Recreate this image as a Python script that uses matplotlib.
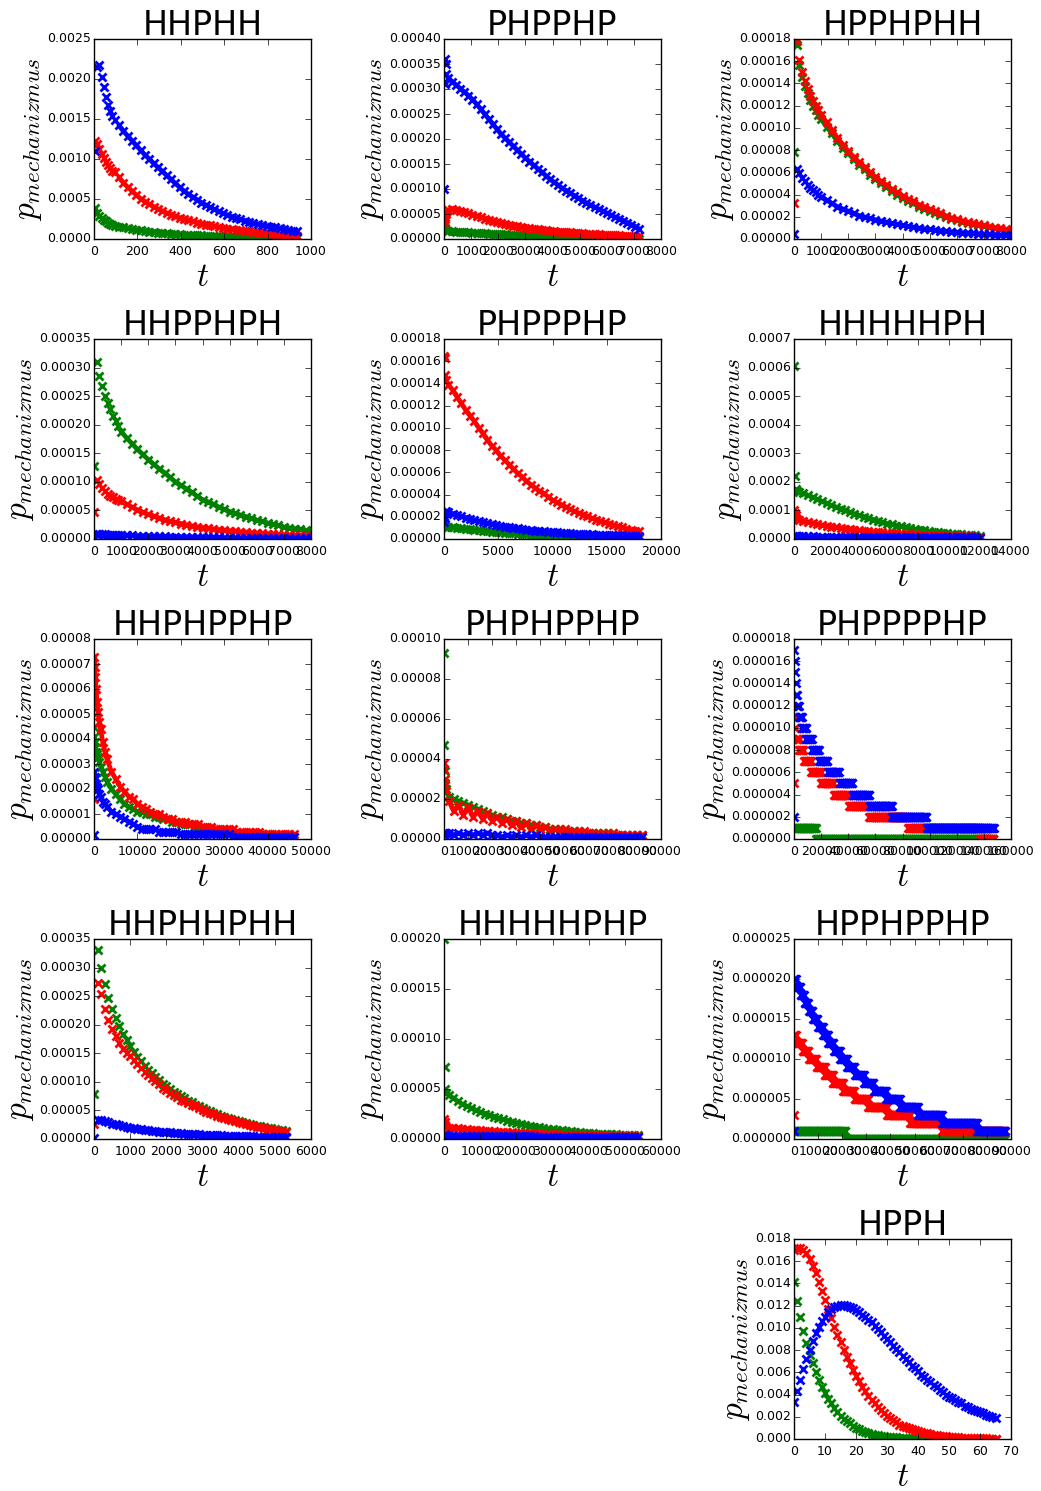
import numpy as np
import matplotlib
matplotlib.use("Agg")
import matplotlib.pyplot as plt

plt.style.use("classic")
plt.rcParams.update({
    "mathtext.fontset": "cm",
    "xtick.labelsize": 9,
    "ytick.labelsize": 9,
    "xtick.major.pad": 4,
    "ytick.major.pad": 2,
    "axes.linewidth": 1.0,
})

U = 1e-6  # values below are stored in units of 1e-6

# ---------------- HHPHH ----------------
hhphh_t = [5, 15, 25, 35, 45, 55, 65, 75, 85, 95] + list(range(115, 936, 20))
hhphh_blue = [1100, 2150, 2170, 2030, 1900, 1780, 1680, 1600, 1540, 1490,
              1420, 1350, 1290, 1230, 1170, 1110, 1050, 1000, 945, 895,
              845, 795, 745, 695, 645, 600, 560, 525, 490, 455,
              425, 395, 370, 345, 320, 300, 280, 260, 245, 230,
              215, 200, 185, 175, 165, 155, 145, 135, 125, 115, 105, 95]
hhphh_red = [1230, 1190, 1120, 1060, 1010, 960, 920, 885, 855, 835,
             770, 705, 650, 600, 550, 505, 468, 435, 405, 375,
             350, 325, 305, 285, 265, 250, 235, 220, 205, 193,
             181, 170, 160, 150, 140, 131, 123, 116, 109, 102,
             96, 90, 84, 78, 72, 67, 62, 57, 52, 47, 42, 38]
hhphh_green = [390, 330, 290, 265, 240, 220, 205, 190, 178, 168,
               155, 145, 135, 125, 115, 107, 100, 93, 87, 81,
               76, 71, 67, 63, 59, 56, 53, 50, 47, 44,
               42, 40, 38, 36, 34, 32, 30, 28, 26, 25,
               24, 23, 22, 21, 20, 19, 18, 17, 16, 15, 14, 13]

# ---------------- PHPPHP ----------------
phpphp_t = [0, 20, 40, 60, 80] + list(range(150, 7201, 150))
phpphp_blue = [100, 360, 310, 350, 330,
               322, 315, 308, 301, 294, 287, 279, 270, 260, 250,
               240, 230, 220, 210, 202, 194, 186, 178, 170, 162,
               155, 148, 141, 134, 127, 120, 114, 108, 102, 97,
               92, 87, 82, 77, 72, 68, 64, 60, 56, 52,
               48, 44, 41, 37, 33, 29, 25, 20]
phpphp_red = [35, 40, 45, 50, 55,
              58, 60, 59, 57, 55, 52, 49, 46, 44, 41,
              39, 36, 34, 32, 30, 29, 27, 26, 24, 23,
              22, 21, 20, 19, 18, 17, 16, 15, 14.5, 14,
              13.3, 12.7, 12, 11.5, 11, 10.5, 10, 9.5, 9, 8.6,
              8.2, 7.8, 7.4, 7, 6.7, 6.4, 6.1, 5.8]
phpphp_green = [25, 22, 20, 18, 17,
                16, 15.5, 15, 14.5, 14, 13.5, 13, 12.5, 12, 11.5,
                11, 10.5, 10, 9.6, 9.2, 8.8, 8.4, 8, 7.6, 7.2,
                6.8, 6.4, 6, 5.7, 5.4, 5.1, 4.8, 4.5, 4.2, 4,
                3.7, 3.5, 3.3, 3, 2.8, 2.6, 2.4, 2.2, 2, 1.9,
                1.8, 1.6, 1.5, 1.4, 1.3, 1.2, 1.1, 1]

# ---------------- HPPHPHH ----------------
hpphphh_t = list(range(0, 1000, 100)) + list(range(1000, 8001, 200))
hpphphh_red = [32, 178, 161, 150, 142, 135, 129, 124, 120, 116,
               112, 105, 98, 91, 85, 79, 74, 69, 65, 60,
               56, 52, 49, 45, 42, 39, 36, 34, 31, 29,
               27, 25, 23, 21, 19, 18, 16.5, 15.3, 14.2, 13.2,
               12.2, 11.2, 10.3, 9.5, 8.7, 8]
hpphphh_green = [78, 175, 157, 146, 138, 131, 125, 120, 116, 112,
                 108, 101, 95, 88, 82, 77, 72, 67, 63, 58,
                 54, 50, 47, 43, 40, 37, 34, 32, 29, 27,
                 25, 23, 21.5, 19.8, 18.2, 16.8, 15.5, 14.3, 13.2, 12.2,
                 11.3, 10.4, 9.6, 8.8, 8.1, 7.4]
hpphphh_blue = [4.5, 63, 59, 55, 52, 49, 46, 44, 42, 40,
                38, 35, 32, 29, 27, 25, 23, 21, 19.8, 18.5,
                17.3, 16.2, 15.2, 14.2, 13.2, 12.3, 11.5, 10.7, 9.9, 9.2,
                8.6, 8, 7.5, 7, 6.5, 6.1, 5.7, 5.4, 5.1, 4.8,
                4.5, 4.2, 4, 3.7, 3.5, 3.3]

# ---------------- HHPPHPH ----------------
hhpphph_t = list(range(0, 1000, 100)) + list(range(1000, 8001, 200))
hhpphph_green = [127, 310, 286, 267, 251, 238, 227, 216, 206, 197,
                 188, 177, 167, 157, 148, 139, 131, 123, 116, 108,
                 100, 94, 88, 82, 75, 69, 65, 61, 56, 52,
                 48, 45, 42, 39, 36, 33, 31, 28, 26, 24,
                 21, 19.6, 18.2, 16.8, 15.2, 14]
hhpphph_red = [47, 104, 97, 90, 84, 79, 76, 73, 70, 68,
               66, 61, 56, 51, 47, 43, 40, 37, 34, 31,
               29, 27, 25, 23, 21.5, 20, 18.8, 17.6, 16.5, 15.5,
               14.6, 13.7, 12.8, 12, 11.2, 10.5, 9.9, 9.3, 8.7, 8.1,
               7.6, 7.2, 6.8, 6.4, 6.1, 5.8]
hhpphph_blue = [4, 8.5, 8.3, 8.1, 7.9, 7.7, 7.5, 7.3, 7.1, 7.0,
                6.8, 6.5, 6.2, 5.9, 5.6, 5.3, 5.0, 4.8, 4.5, 4.3,
                4.1, 3.9, 3.7, 3.5, 3.3, 3.1, 3.0, 2.8, 2.7, 2.5,
                2.4, 2.3, 2.2, 2.1, 2.0, 1.9, 1.8, 1.7, 1.6, 1.5,
                1.4, 1.4, 1.3, 1.2, 1.2, 1.1]

# ---------------- PHPPPHP ----------------
phppphp_t = [0, 60, 120, 180] + list(range(400, 18001, 400))
phppphp_red = [165, 163, 148, 143,
               139, 134, 128, 122, 116, 111, 106, 100, 95, 89,
               84, 80, 75, 71, 67, 63, 59, 56, 52, 49,
               46, 43, 41, 38, 35, 33, 31, 29, 27, 25,
               23.4, 21.8, 20.3, 18.8, 17.4, 16.1, 14.9, 13.7, 12.5, 11.4,
               10.4, 9.4, 8.5, 7.6, 6.8]
phppphp_blue = [15, 19, 23, 25,
                24.2, 22.8, 21.5, 20.3, 19.1, 18, 17, 16, 15.1, 14.2,
                13.4, 12.6, 11.9, 11.2, 10.6, 10, 9.5, 9, 8.5, 8,
                7.6, 7.2, 6.8, 6.5, 6.2, 5.9, 5.6, 5.3, 5.1, 4.9,
                4.7, 4.5, 4.3, 4.1, 4, 3.8, 3.7, 3.5, 3.4, 3.3,
                3.2, 3.1, 3, 2.9, 2.8]
phppphp_green = [13, 12, 11, 11,
                 10.8, 10.4, 10, 9.6, 9.2, 8.7, 8.3, 7.9, 7.5, 7.1,
                 6.7, 6.3, 6, 5.7, 5.4, 5.1, 4.8, 4.5, 4.3, 4,
                 3.8, 3.6, 3.4, 3.2, 3, 2.8, 2.7, 2.5, 2.4, 2.2,
                 2.1, 2, 1.9, 1.8, 1.7, 1.6, 1.5, 1.4, 1.3, 1.2,
                 1.2, 1.1, 1, 1, 0.9]

# ---------------- HHHHHPH ----------------
hhhhhph_t = [0, 50, 100, 150, 200] + list(range(300, 12001, 300))
hhhhhph_green = [604, 220, 175, 172, 168,
                 166, 160, 153, 146, 139, 132, 125, 118, 112, 106,
                 100, 94, 88, 83, 78, 73, 68, 63, 58, 54,
                 51, 47, 44, 41, 38, 35, 33, 30, 28, 26,
                 24, 22, 20, 19, 17.5, 16.2, 15, 13.9, 12.8, 11.8]
hhhhhph_red = [103, 92, 85, 75, 70,
               68, 64, 60, 56, 52, 49, 46, 43, 41, 38,
               36, 34, 32, 30, 28.5, 27, 25.5, 24, 22.8, 21.6,
               20.5, 19.5, 18.5, 17.6, 16.7, 15.9, 15.1, 14.4, 13.7, 13,
               12.4, 11.8, 11.2, 10.7, 10.2, 9.7, 9.3, 8.9, 8.5, 8.1]
hhhhhph_blue = [6, 9, 9, 9, 9,
                9, 9, 8.9, 8.8, 8.7, 8.6, 8.5, 8.4, 8.3, 8.2,
                8.1, 8, 7.9, 7.8, 7.7, 7.6, 7.5, 7.4, 7.3, 7.2,
                7.1, 7, 6.9, 6.8, 6.7, 6.6, 6.5, 6.4, 6.3, 6.2,
                6.1, 6, 5.9, 5.8, 5.7, 5.6, 5.5, 5.4, 5.3, 5.2]

# ---------------- HHPHPPHP ----------------
hhphpphp_t = [0, 100, 200, 300, 500, 700, 900, 1200, 1500, 2000, 2500, 3000] + list(range(4000, 46001, 1000))
hhphpphp_red = [16, 73, 69, 65, 60, 55, 51, 47, 44, 39, 35, 32,
                27, 24, 21, 19, 17, 16, 14, 13, 12, 11,
                10, 10, 9, 8, 8, 7, 7, 7, 6, 6,
                6, 5, 5, 5, 4, 4, 4, 4, 4, 3,
                3, 3, 3, 3, 3, 2, 2, 2, 2, 2,
                2, 2, 2]
hhphpphp_green = [45, 41, 39, 37, 35, 34, 33, 31, 29, 27, 25, 23,
                  20, 18, 16, 14, 13, 12, 11, 11, 10, 10,
                  9, 9, 8, 8, 7, 7, 6, 6, 6, 5,
                  5, 4, 4, 4, 3, 3, 3, 3, 2, 2,
                  2, 2, 2, 2, 2, 2, 2, 1, 1, 1,
                  1, 1, 1]
hhphpphp_blue = [1.5, 27, 25, 24, 22, 21, 20, 18, 17, 15, 14, 13,
                 11, 10, 9, 8, 7, 6, 5, 4, 4, 4,
                 4, 3, 3, 3, 3, 3, 2, 2, 2, 2,
                 2, 2, 2, 2, 2, 2, 2, 2, 1, 1,
                 1, 1, 1, 1, 1, 1, 1, 1, 1, 1,
                 1, 1, 1]

# ---------------- PHPHPPHP ----------------
phphpphp_t = [0, 200, 400, 600, 800] + list(range(2000, 82001, 2000))
phphpphp_red = [38, 35, 30, 27, 24,
                19, 14, 17, 12, 16, 11, 14, 10, 13, 9,
                11, 8, 10, 7, 9, 6, 8, 5, 7, 5,
                6, 4, 5, 4, 5, 3, 4, 3, 4, 3,
                3, 2, 3, 2, 3, 2, 2, 2, 2, 2, 2]
phphpphp_green = [93, 47, 34, 28, 25,
                  21, 20, 19, 18, 17, 16, 15, 14, 13, 12,
                  11, 11, 10, 9, 9, 8, 8, 7, 7, 6,
                  6, 5, 5, 5, 4, 4, 4, 4, 3, 3,
                  3, 3, 3, 3, 3, 2, 2, 2, 2, 2, 2]
phphpphp_blue = [2, 3, 3, 3, 3,
                 3, 2, 3, 2, 3, 2, 3, 2, 3, 2,
                 2, 1, 2, 1, 2, 1, 2, 1, 2, 1,
                 1, 1, 1, 1, 1, 1, 1, 1, 1, 1,
                 1, 1, 1, 1, 1, 1, 1, 1, 1, 1, 1]

# ---------------- PHPPPPHP (piecewise constant: t_start, t_end, level) ----------------
phpppphp_blue_steps = [(0, 0, 2), (300, 300, 17), (600, 600, 16), (900, 900, 15),
                       (1200, 1600, 14), (1600, 2500, 13), (2500, 3800, 12), (3800, 6000, 11),
                       (6000, 9100, 10), (9100, 13400, 9), (13400, 18600, 8), (18600, 25100, 7),
                       (25100, 33600, 6), (33600, 43150, 5), (43150, 55750, 4), (55750, 72500, 3),
                       (72500, 97850, 2), (97850, 147500, 1)]
phpppphp_red_steps = [(0, 0, 5), (200, 600, 11), (600, 1400, 10), (1400, 4000, 9),
                      (4000, 7500, 8), (7500, 12800, 7), (12800, 20000, 6), (20000, 29400, 5),
                      (29400, 40700, 4), (40700, 55200, 3), (55200, 84000, 2),
                      (84000, 137000, 1), (137000, 147500, 0)]
phpppphp_green_steps = [(0, 16500, 1), (16500, 147500, 0)]

# ---------------- HHPHHPHH ----------------
hhphhphh_t = list(range(0, 5301, 100))
hhphhphh_green = [79, 331, 300, 271, 247, 228, 212, 197, 184, 173,
                  162, 153, 144, 136, 128, 121, 115, 109, 103, 97,
                  92, 87, 83, 79, 75, 71, 67, 64, 60, 57,
                  54, 51, 49, 46, 43, 41, 39, 37, 35, 33,
                  31, 29.5, 28, 26.5, 25, 23.5, 22.2, 21, 19.8, 18.7,
                  17.6, 16.6, 15.7, 14.8]
hhphhphh_red = [26, 273, 253, 228, 209, 193, 180, 168, 158, 151,
                145, 138, 131, 125, 118, 112, 106, 101, 96, 90,
                85, 81, 77, 73, 69, 66, 63, 60, 57, 54,
                51, 48, 46, 43, 41, 39, 37, 35, 33, 31,
                29, 27.5, 26, 24.5, 23, 21.5, 20.3, 19.1, 18, 16.9,
                15.8, 14.8, 13.8, 12.9]
hhphhphh_blue = [2, 34, 33, 31, 29, 27, 26, 24, 23, 21,
                 20, 19, 18, 17, 16, 15, 14, 13.5, 13, 12.5,
                 12, 11.5, 11, 10.5, 10, 9.6, 9.2, 8.8, 8.4, 8,
                 7.7, 7.4, 7.1, 6.8, 6.5, 6.2, 6, 5.8, 5.6, 5.4,
                 5.2, 5, 4.8, 4.6, 4.4, 4.2, 4, 3.9, 3.8, 3.7,
                 3.6, 3.5, 3.4, 3.3]

# ---------------- HHHHHPHP ----------------
hhhhhphp_t = [0, 200, 400, 600] + list(range(1250, 53751, 1250))
hhhhhphp_green = [200, 72, 50, 46,
                  44, 41, 38, 35, 33, 31, 29, 27, 25.5, 24,
                  22.5, 21, 19.7, 18.5, 17.3, 16.2, 15.2, 14.2, 13.3, 12.5,
                  11.7, 11, 10.3, 9.7, 9.1, 8.6, 8.1, 7.6, 7.2, 6.8,
                  6.4, 6.1, 5.8, 5.5, 5.2, 5, 4.8, 4.6, 4.4, 4.2,
                  4, 3.8, 3.6]
hhhhhphp_red = [20, 17, 14, 12,
                11.5, 11, 10.6, 10.2, 9.8, 9.4, 9, 8.7, 8.4, 8.1,
                7.8, 7.5, 7.2, 6.9, 6.6, 6.4, 6.2, 6, 5.8, 5.6,
                5.4, 5.2, 5, 4.8, 4.6, 4.5, 4.4, 4.3, 4.2, 4.1,
                4, 3.9, 3.8, 3.7, 3.6, 3.5, 3.4, 3.3, 3.2, 3.1,
                3, 3, 3]
hhhhhphp_blue = [2, 4, 4, 4,
                 3.5, 3.5, 3.5, 3.5, 3.5, 3.5, 3.5, 3.5, 3.5, 3.5,
                 3, 3, 3, 3, 3, 3, 3, 3, 3, 3,
                 2.5, 2.5, 2.5, 2.5, 2.5, 2.5, 2.5, 2.5, 2.5, 2.5,
                 2.5, 2.5, 2, 2, 2, 2, 2, 2, 2, 2,
                 2, 2, 2]

# ---------------- HPPHPPHP (piecewise constant) ----------------
hpphpphp_blue_steps = [(0, 0, 1), (200, 1100, 20), (1100, 2700, 19), (2700, 4360, 18),
                       (4360, 6160, 17), (6160, 7890, 16), (7890, 9900, 15), (9900, 12050, 14),
                       (12050, 14190, 13), (14190, 16550, 12), (16550, 19040, 11), (19040, 22090, 10),
                       (22090, 25270, 9), (25270, 29010, 8), (29010, 33160, 7), (33160, 38150, 6),
                       (38150, 44030, 5), (44030, 51300, 4), (51300, 61410, 3), (61410, 76090, 2),
                       (76090, 87500, 1)]
hpphpphp_red_steps = [(0, 0, 3), (200, 900, 13), (900, 3600, 12), (3600, 6160, 11),
                      (6160, 9420, 10), (9420, 12740, 9), (12740, 16060, 8), (16060, 20350, 7),
                      (20350, 25130, 6), (25130, 30880, 5), (30880, 38490, 4), (38490, 48250, 3),
                      (48250, 61340, 2), (61340, 87500, 1)]
hpphpphp_green_steps = [(300, 21400, 1), (21400, 87500, 0)]

# ---------------- HPPH ----------------
hpph_t = list(range(0, 66))
hpph_blue = [3300, 4300, 5300, 6300, 7200, 8000, 8800, 9500, 10100, 10600,
             11000, 11400, 11700, 11900, 12000, 12100, 12100, 12000, 11900, 11800,
             11600, 11400, 11200, 11000, 10700, 10500, 10200, 9900, 9600, 9300,
             9000, 8700, 8400, 8100, 7800, 7500, 7200, 6900, 6600, 6400,
             6100, 5800, 5600, 5300, 5100, 4900, 4700, 4400, 4200, 4000,
             3800, 3700, 3500, 3300, 3200, 3000, 2900, 2700, 2600, 2500,
             2400, 2300, 2200, 2100, 2000, 1900]
hpph_red = [17000, 17200, 17200, 17000, 16700, 16200, 15600, 14900, 14100, 13300,
            12500, 11700, 10900, 10100, 9400, 8700, 8000, 7400, 6800, 6200,
            5700, 5200, 4700, 4300, 3900, 3500, 3200, 2900, 2600, 2300,
            2100, 1900, 1700, 1500, 1300, 1200, 1100, 1000, 900, 800,
            700, 600, 550, 500, 450, 400, 350, 300, 270, 240,
            210, 190, 170, 150, 130, 120, 100, 90, 80, 70,
            60, 50, 50, 40, 40, 30]
hpph_green = [14100, 12400, 11000, 9700, 8600, 7600, 6800, 6000, 5300, 4700,
              4100, 3600, 3200, 2800, 2400, 2100, 1800, 1600, 1400, 1200,
              1000, 900, 750, 650, 550, 470, 400, 340, 290, 250,
              210, 180, 160, 140, 120, 100, 90, 80, 70, 60,
              50, 45, 40, 35, 30, 25, 20, 18, 16, 14,
              12, 10, 9, 8, 7, 6, 5, 5, 4, 4,
              3, 3, 2, 2, 2, 1]


def expand_steps(steps, dt):
    ts, ps = [], []
    for t0, t1, lev in steps:
        seg = np.arange(t0, t1, dt) if t1 > t0 else np.array([t0])
        ts.append(seg)
        ps.append(np.full(len(seg), lev * U))
    return np.concatenate(ts), np.concatenate(ps)


def series(t, vals):
    return np.asarray(t, float), np.asarray(vals, float) * U


# band_from: index from which the dense markers merge into a continuous band (green, red, blue)
panels = [
    (0, 0, "HHPHH", series(hhphh_t, hhphh_green), series(hhphh_t, hhphh_red), series(hhphh_t, hhphh_blue), 1000, 200, 0.0025, 0.0005, (10, 10, 10)),
    (0, 1, "PHPPHP", series(phpphp_t, phpphp_green), series(phpphp_t, phpphp_red), series(phpphp_t, phpphp_blue), 8000, 1000, 0.0004, 0.00005, (5, 5, 5)),
    (0, 2, "HPPHPHH", series(hpphphh_t, hpphphh_green), series(hpphphh_t, hpphphh_red), series(hpphphh_t, hpphphh_blue), 8000, 1000, 0.00018, 0.00002, (10, 10, 10)),
    (1, 0, "HHPPHPH", series(hhpphph_t, hhpphph_green), series(hhpphph_t, hhpphph_red), series(hhpphph_t, hhpphph_blue), 8000, 1000, 0.00035, 0.00005, (10, 10, 1)),
    (1, 1, "PHPPPHP", series(phppphp_t, phppphp_green), series(phppphp_t, phppphp_red), series(phppphp_t, phppphp_blue), 20000, 5000, 0.00018, 0.00002, (4, 4, 4)),
    (1, 2, "HHHHHPH", series(hhhhhph_t, hhhhhph_green), series(hhhhhph_t, hhhhhph_red), series(hhhhhph_t, hhhhhph_blue), 14000, 2000, 0.0007, 0.0001, (5, 5, 1)),
    (2, 0, "HHPHPPHP", series(hhphpphp_t, hhphpphp_green), series(hhphpphp_t, hhphpphp_red), series(hhphpphp_t, hhphpphp_blue), 50000, 10000, 0.00008, 0.00001, (1, 1, 1)),
    (2, 1, "PHPHPPHP", series(phphpphp_t, phphpphp_green), series(phphpphp_t, phphpphp_red), series(phphpphp_t, phphpphp_blue), 90000, 10000, 0.0001, 0.00002, (5, 5, 1)),
    (2, 2, "PHPPPPHP", expand_steps(phpppphp_green_steps, 500), expand_steps(phpppphp_red_steps, 500), expand_steps(phpppphp_blue_steps, 500), 160000, 20000, 0.000018, 0.000002, None),
    (3, 0, "HHPHHPHH", series(hhphhphh_t, hhphhphh_green), series(hhphhphh_t, hhphhphh_red), series(hhphhphh_t, hhphhphh_blue), 6000, 1000, 0.00035, 0.00005, None),
    (3, 1, "HHHHHPHP", series(hhhhhphp_t, hhhhhphp_green), series(hhhhhphp_t, hhhhhphp_red), series(hhhhhphp_t, hhhhhphp_blue), 60000, 10000, 0.0002, 0.00005, (3, 3, 1)),
    (3, 2, "HPPHPPHP", expand_steps(hpphpphp_green_steps, 300), expand_steps(hpphpphp_red_steps, 300), expand_steps(hpphpphp_blue_steps, 300), 90000, 10000, 0.000025, 0.000005, None),
    (4, 2, "HPPH", series(hpph_t, hpph_green), series(hpph_t, hpph_red), series(hpph_t, hpph_blue), 70, 10, 0.018, 0.002, None),
]

W, H = 1041, 1491
col_left = [94, 444, 794]
row_top = [39, 339, 639, 939, 1239]
aw, ah = 217, 200

fig = plt.figure(figsize=(W / 100, H / 100), dpi=100, facecolor="white")

for row, col, title, g, r, b, xmax, xstep, ymax, ystep, band in panels:
    ax = fig.add_axes([col_left[col] / W, 1 - (row_top[row] + ah) / H, aw / W, ah / H])
    for i, ((tt, pp), c) in enumerate(((g, "g"), (r, "r"), (b, "b"))):
        if band is not None:
            k = band[i]
            ax.plot(tt[k:], pp[k:], linestyle="-", color=c, linewidth=3.4,
                    solid_joinstyle="round", solid_capstyle="round")
        ax.plot(tt, pp, linestyle="none", marker="x", color=c, markeredgecolor=c,
                markersize=5.5, markeredgewidth=2.0)
    ax.set_xlim(0, xmax)
    ax.set_ylim(0, ymax)
    ax.set_xticks(np.arange(0, xmax + xstep / 2, xstep))
    ax.set_yticks(np.linspace(0, ymax, int(round(ymax / ystep)) + 1))
    ax.set_title(title, fontsize=24, pad=3)
    ax.set_xlabel(r"$t$", fontsize=24, labelpad=2)
    ax.set_ylabel(r"$p_{mechanizmus}$", fontsize=24, labelpad=2)

fig.savefig("out.png", dpi=100, facecolor="white")
